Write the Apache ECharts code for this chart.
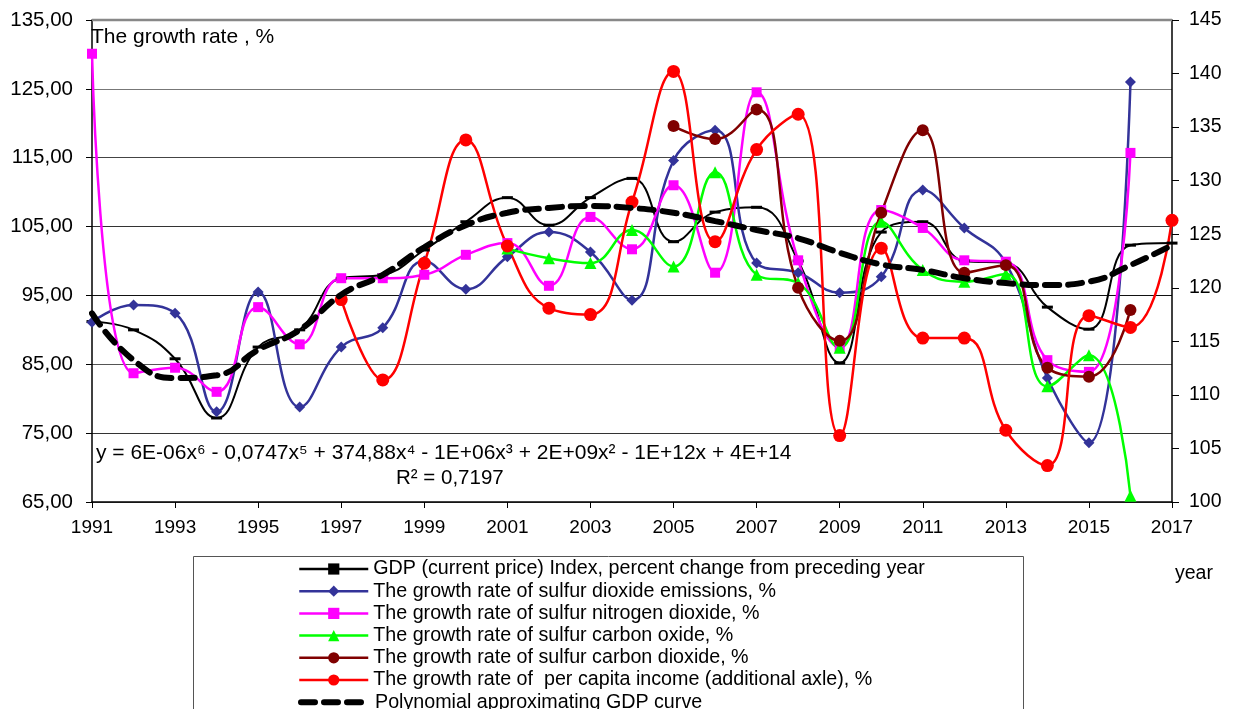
<!DOCTYPE html>
<html>
<head>
<meta charset="utf-8">
<script src="https://cdn.jsdelivr.net/npm/echarts@6/dist/echarts.min.js"></script>
<style>
html,body{margin:0;padding:0;background:#fff;}
#chart{width:1233px;height:709px;}
</style>
</head>
<body>
<div id="chart"></div>
<script>
const years = ['1991','1992','1993','1994','1995','1996','1997','1998','1999','2000','2001','2002','2003','2004','2005','2006','2007','2008','2009','2010','2011','2012','2013','2014','2015','2016','2017'];

const gdpIndex = [91.2,90.0,85.8,77.2,87.5,90.0,97.5,98.0,101.6,105.7,109.2,105.2,109.2,112.0,102.8,107.1,107.8,100.0,85.2,104.2,105.7,100.0,99.7,93.3,90.1,102.3,102.6];
const so2 = [91.1,93.6,92.4,78.1,95.5,78.8,87.5,90.3,100.0,95.9,100.6,104.2,101.3,94.3,114.6,119.0,99.7,98.3,95.4,97.7,110.3,104.8,99.7,83.0,73.6,126.0,null];
const no2 = [130.1,83.7,84.5,81.0,93.3,87.9,97.5,97.5,98.0,100.9,102.6,96.4,106.4,101.7,111.0,98.3,124.5,100.1,87.5,107.4,104.8,100.1,99.9,85.6,83.9,115.7,null];
const co = [null,null,null,null,null,null,null,null,null,null,101.8,100.4,99.7,104.5,99.2,112.9,98.0,96.8,87.4,105.7,98.7,97.0,98.1,81.8,86.3,65.9,null];
const co2 = [null,null,null,null,null,null,null,null,null,null,null,null,null,null,119.6,117.7,122.0,96.1,88.4,107.0,119.0,98.3,99.4,84.5,83.2,92.9,null];
const income = [null,null,null,null,null,null,118.9,111.4,122.3,133.8,123.9,118.1,117.5,128.0,140.2,124.3,132.9,136.2,106.2,123.7,115.3,115.3,106.7,103.4,117.4,116.3,126.3];
const polyTrend = [92.4,85.6,83.0,83.4,87.1,90.0,95.1,98.0,102.0,105.2,107.0,107.7,108.0,107.7,107.0,105.8,104.5,103.3,101.2,99.5,98.7,97.5,96.8,96.5,97.0,99.4,102.3];

const seriesNames = [
  'GDP (current price) Index, percent change from preceding year',
  'The growth rate of sulfur dioxide emissions, %',
  'The growth rate of sulfur nitrogen dioxide, %',
  'The growth rate of sulfur carbon oxide, %',
  'The growth rate of sulfur carbon dioxide, %',
  'The growth rate of  per capita income (additional axle), %',
  'Polynomial approximating GDP curve'
];
const axisTitle = 'The growth rate , %';
const xTitle = 'year';
const equationText = 'y = 6E-06x\u2076 - 0,0747x\u2075 + 374,88x\u2074 - 1E+06x\u00b3 + 2E+09x\u00b2 - 1E+12x + 4E+14';
const r2Text = 'R\u00b2 = 0,7197';

const FONT = "'Liberation Sans', Arial, sans-serif";
const chart = echarts.init(document.getElementById('chart'), null, {renderer: 'canvas'});

function lineSeries(name, data, color, symbol, size, yIdx, width) {
  return {
    name: name, type: 'line', data: data, yAxisIndex: yIdx || 0,
    smooth: 0.45, symbol: symbol, symbolSize: size, showSymbol: true,
    lineStyle: {color: color, width: width || 2.5},
    itemStyle: {color: color},
    emphasis: {disabled: true}, animation: false
  };
}

const legendText = {fontSize: 19.7, color: '#000', fontFamily: FONT, lineHeight: 20};

const option = {
  animation: false,
  textStyle: {fontFamily: FONT},
  grid: {left: 92, right: 61, top: 20, bottom: 207},
  xAxis: {
    type: 'category', data: years, boundaryGap: false,
    axisLine: {lineStyle: {color: '#000', width: 1.5}},
    axisTick: {interval: 1, length: 6, lineStyle: {color: '#000'}},
    axisLabel: {interval: 1, color: '#000', fontSize: 19, margin: 16, fontFamily: FONT},
    splitLine: {show: false}
  },
  yAxis: [{
    type: 'value', min: 65, max: 135, interval: 10, position: 'left',
    axisLine: {show: true, lineStyle: {color: '#000', width: 1.5}},
    axisTick: {show: true, length: 6, lineStyle: {color: '#000'}},
    axisLabel: {color: '#000', fontSize: 20.5, margin: 19, fontFamily: FONT,
      formatter: v => v.toFixed(2).replace('.', ',')},
    splitLine: {show: true, lineStyle: {color: ['#555','#333','#555','#111','#333','#444','#777','#888'], width: 1}}
  }, {
    type: 'value', min: 100, max: 145, interval: 5, position: 'right',
    axisLine: {show: true, lineStyle: {color: '#000', width: 1.5}},
    axisTick: {show: true, length: 7, lineStyle: {color: '#000'}},
    axisLabel: {color: '#000', fontSize: 19.5, margin: 17, fontFamily: FONT},
    splitLine: {show: false}
  }],
  legend: [{
    orient: 'vertical', left: 293, top: 554, padding: 5,
    itemWidth: 69, itemHeight: 14, itemGap: 2.2,
    lineStyle: {width: 2.5},
    textStyle: legendText,
    data: seriesNames.slice(0, 6), selectedMode: false
  }, {
    orient: 'vertical', left: 293, top: 554 + 6 * 22.2, padding: 5,
    itemWidth: 69, itemHeight: 14, itemGap: 2.2,
    lineStyle: {width: 6},
    textStyle: legendText,
    data: [{name: seriesNames[6], itemStyle: {opacity: 0}}], selectedMode: false
  }],
  graphic: [
    {type: 'rect', shape: {x: 193.5, y: 556.5, width: 830, height: 170}, style: {fill: 'none', stroke: '#555', lineWidth: 1}, z: -1},
    {type: 'line', shape: {x1: 92, y1: 20, x2: 1172, y2: 20}, style: {stroke: '#888', lineWidth: 2.5}, z: 10},
    {type: 'text', left: 91, top: 27, style: {text: axisTitle, font: '21px ' + FONT, fill: '#000'}, z: 20},
    {type: 'text', left: 1175, top: 564, style: {text: xTitle, font: '19.5px ' + FONT, fill: '#000'}},
    {type: 'text', left: 96, top: 443, style: {text: equationText, font: '21px ' + FONT, fill: '#000'}, z: 20},
    {type: 'text', left: 396, top: 468, style: {text: r2Text, font: '20.5px ' + FONT, fill: '#000'}, z: 20}
  ],
  series: [
    lineSeries(seriesNames[0], gdpIndex, '#000000', 'rect', [11, 3], 0, 2),
    lineSeries(seriesNames[1], so2, '#333399', 'diamond', 11, 0, 2.5),
    lineSeries(seriesNames[2], no2, '#FF00FF', 'rect', 10, 0, 2.5),
    lineSeries(seriesNames[3], co, '#00FF00', 'triangle', 12, 0, 2.5),
    lineSeries(seriesNames[4], co2, '#800000', 'circle', 12, 0, 2.5),
    lineSeries(seriesNames[5], income, '#FF0000', 'circle', 13, 1, 2.5),
    {
      name: seriesNames[6], type: 'line', data: polyTrend, yAxisIndex: 0,
      smooth: 0.5, symbol: 'none',
      lineStyle: {color: '#000', width: 6, type: [14, 9], cap: 'round'},
      itemStyle: {color: '#000'}, z: 5, emphasis: {disabled: true}
    }
  ]
};
chart.setOption(option);
</script>
</body>
</html>
